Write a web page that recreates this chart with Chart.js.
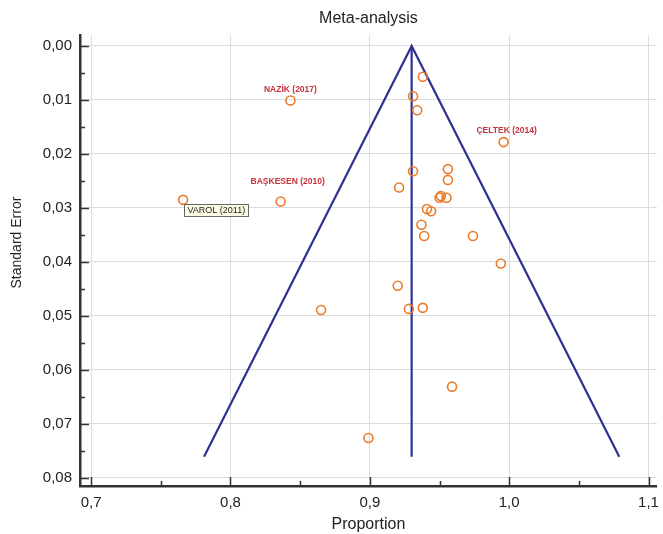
<!DOCTYPE html>
<html>
<head>
<meta charset="utf-8">
<script src="https://cdn.jsdelivr.net/npm/chart.js@4"></script>
<style>
  html, body { margin: 0; padding: 0; background: #fff; }
</style>
</head>
<body>
<canvas id="funnel" width="663" height="534"></canvas>
<script>
// studies with a name written next to them
const labeledNames = ['NAZİK (2017)', 'ÇELTEK (2014)', 'BAŞKESEN (2010)', 'VAROL (2011)'];
const labeledProportion = [0.843, 0.996, 0.836, 0.766];
const labeledSE = [0.0101, 0.0178, 0.0288, 0.0285];

// remaining studies
const otherProportion = [0.938, 0.931, 0.934, 0.931, 0.956, 0.956, 0.921, 0.950, 0.951, 0.955,
                         0.941, 0.944, 0.937, 0.939, 0.974, 0.994, 0.920, 0.928, 0.938, 0.865,
                         0.959, 0.899];
const otherSE = [0.0057, 0.0093, 0.0119, 0.0232, 0.0228, 0.0248, 0.0262, 0.0281, 0.0278, 0.0281,
                 0.0302, 0.0306, 0.0331, 0.0352, 0.0352, 0.0403, 0.0444, 0.0487, 0.0485, 0.0489,
                 0.0631, 0.0726];

// funnel (pooled estimate and 95% limits)
const funnelX = [0.781, 0.930, 1.079];
const funnelY = [0.0761, 0.0, 0.0761];
const pooledX = [0.930, 0.930];
const pooledY = [0.0, 0.0761];

// axes
const xTicks = [0.7, 0.8, 0.9, 1.0, 1.1];
const xMinor = [0.75, 0.85, 0.95, 1.05];
const yTicks = [0.00, 0.01, 0.02, 0.03, 0.04, 0.05, 0.06, 0.07, 0.08];
const yMinor = [0.005, 0.015, 0.025, 0.035, 0.045, 0.055, 0.065, 0.075];
const yTitle = 'Standard Error';

const toPoints = (xs, ys) => xs.map((x, i) => ({ x: x, y: ys[i] }));
const comma = (v, d) => v.toFixed(d).replace('.', ',');

const axisColor = '#333333';
const textColor = '#222222';
const orange = '#EB7A2A';
const navy = '#2E3192';

// label placement relative to each labeled point
const labelOffsets = [
    { dx: 0, dy: -11 },
    { dx: 3, dy: -11 },
    { dx: 7, dy: -20 },
    { dx: 1, dy: 4, box: true }
];

const overlay = {
    id: 'overlay',
    afterDraw(chart) {
        const ctx = chart.ctx;
        const xs = chart.scales.x;
        const ys = chart.scales.y;
        const area = chart.chartArea;
        ctx.save();
        // inward tick marks
        ctx.strokeStyle = axisColor;
        ctx.lineWidth = 1.5;
        ctx.beginPath();
        xTicks.forEach(v => {
            const px = Math.round(xs.getPixelForValue(v)) + 0.5;
            ctx.moveTo(px, area.bottom); ctx.lineTo(px, area.bottom - 9);
        });
        xMinor.forEach(v => {
            const px = Math.round(xs.getPixelForValue(v)) + 0.5;
            ctx.moveTo(px, area.bottom); ctx.lineTo(px, area.bottom - 5);
        });
        yTicks.forEach(v => {
            const py = Math.round(ys.getPixelForValue(v)) + 0.5;
            ctx.moveTo(area.left, py); ctx.lineTo(area.left + 9, py);
        });
        yMinor.forEach(v => {
            const py = Math.round(ys.getPixelForValue(v)) + 0.5;
            ctx.moveTo(area.left, py); ctx.lineTo(area.left + 5, py);
        });
        ctx.stroke();

        // y axis title, sits a little above the middle like the original
        ctx.save();
        ctx.translate(17, area.top + (area.bottom - area.top) * 0.46);
        ctx.rotate(-Math.PI / 2);
        ctx.font = '14px "Liberation Sans", Arial, sans-serif';
        ctx.fillStyle = textColor;
        ctx.textAlign = 'center';
        ctx.textBaseline = 'middle';
        ctx.fillText(yTitle, 0, 0);
        ctx.restore();

        // study names
        const meta = chart.getDatasetMeta(0);
        meta.data.forEach((pt, i) => {
            const off = labelOffsets[i];
            const name = labeledNames[i];
            if (off.box) {
                ctx.font = '9px "Liberation Sans", Arial, sans-serif';
                const w = Math.round(ctx.measureText(name).width + 6);
                const bx = Math.round(pt.x + off.dx) + 0.5;
                const by = Math.round(pt.y + off.dy) + 0.5;
                ctx.fillStyle = '#FCFCE6';
                ctx.strokeStyle = '#666666';
                ctx.lineWidth = 1;
                ctx.fillRect(bx, by, w, 12);
                ctx.strokeRect(bx, by, w, 12);
                ctx.fillStyle = '#222222';
                ctx.textAlign = 'left';
                ctx.textBaseline = 'middle';
                ctx.fillText(name, bx + 3, by + 6.5);
            } else {
                ctx.font = 'bold 8.5px "Liberation Sans", Arial, sans-serif';
                ctx.fillStyle = '#C8323C';
                ctx.textAlign = 'center';
                ctx.textBaseline = 'middle';
                ctx.fillText(name, pt.x + off.dx, pt.y + off.dy);
            }
        });
        ctx.restore();
    }
};

Chart.defaults.font.family = '"Liberation Sans", Arial, sans-serif';
Chart.defaults.color = textColor;

const ctx = document.getElementById('funnel').getContext('2d');
new Chart(ctx, {
    type: 'scatter',
    data: {
        datasets: [{
            label: 'Named studies',
            data: toPoints(labeledProportion, labeledSE),
            pointRadius: 4.5,
            pointBorderWidth: 1.6,
            pointBorderColor: orange,
            pointBackgroundColor: 'rgba(0,0,0,0)',
            order: 0
        }, {
            label: 'Studies',
            data: toPoints(otherProportion, otherSE),
            pointRadius: 4.5,
            pointBorderWidth: 1.6,
            pointBorderColor: orange,
            pointBackgroundColor: 'rgba(0,0,0,0)',
            order: 1
        }, {
            label: 'Funnel',
            data: toPoints(funnelX, funnelY),
            showLine: true,
            borderColor: navy,
            borderWidth: 2.2,
            pointRadius: 0,
            order: 2
        }, {
            label: 'Pooled',
            data: toPoints(pooledX, pooledY),
            showLine: true,
            borderColor: navy,
            borderWidth: 2.2,
            pointRadius: 0,
            order: 3
        }]
    },
    options: {
        responsive: false,
        animation: false,
        layout: { padding: { left: 0, right: 3, top: 0, bottom: 0 } },
        plugins: {
            legend: { display: false },
            tooltip: { enabled: false },
            title: {
                display: true,
                text: 'Meta-analysis',
                fullSize: false,
                color: textColor,
                font: { size: 16, weight: 'normal' },
                padding: { top: 9, bottom: 7 }
            }
        },
        scales: {
            x: {
                type: 'linear',
                min: 0.692,
                max: 1.106,
                afterBuildTicks: s => { s.ticks = xTicks.map(v => ({ value: v })); },
                afterFit: s => { s.height = 48; s.paddingLeft = 0; s.paddingRight = 0; },
                ticks: {
                    padding: 8,
                    font: { size: 15 },
                    color: textColor,
                    callback: v => comma(v, 1)
                },
                grid: { color: '#DCDCDC', lineWidth: 1, drawTicks: false },
                border: { display: true, color: axisColor, width: 2.5 },
                title: {
                    display: true,
                    text: 'Proportion',
                    color: textColor,
                    font: { size: 16 },
                    padding: { top: 0, bottom: 0 }
                }
            },
            y: {
                type: 'linear',
                reverse: true,
                min: -0.002,
                max: 0.0815,
                afterBuildTicks: s => { s.ticks = yTicks.map(v => ({ value: v })); },
                afterFit: s => { s.width = 80; s.paddingTop = 0; s.paddingBottom = 0; },
                ticks: {
                    padding: 8,
                    font: { size: 15 },
                    color: textColor,
                    callback: v => comma(v, 2)
                },
                grid: { color: '#DCDCDC', lineWidth: 1, drawTicks: false },
                border: { display: true, color: axisColor, width: 2.5 }
            }
        }
    },
    plugins: [overlay]
});
</script>
</body>
</html>
